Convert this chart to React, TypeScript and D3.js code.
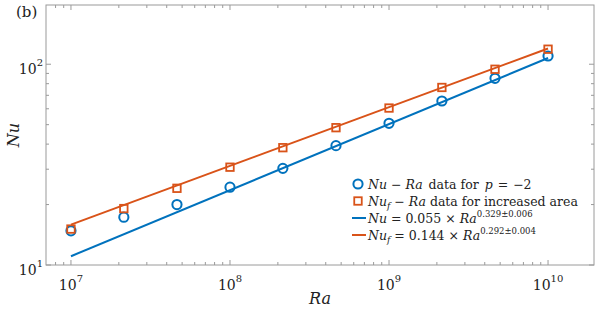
import React from 'react';
import * as d3 from 'd3';

// Rayleigh numbers and Nusselt values
const raValues = [1e7, 2.15e7, 4.64e7, 1e8, 2.15e8, 4.64e8, 1e9, 2.15e9, 4.64e9, 1e10];
const nuValues = [14.8, 17.3, 20.0, 24.4, 30.3, 39.3, 50.8, 65.6, 85.1, 109.9];
const nufValues = [15.1, 19.1, 24.1, 30.7, 38.4, 48.3, 60.5, 76.6, 94.4, 118.8];

// fit lines (end points, straight in log-log)
const fitRa = [1e7, 1e10];
const nuFit = [11.06, 107.4];
const nufFit = [15.9, 119.8];

const xTickExps = [7, 8, 9, 10];
const yTickExps = [1, 2];

const BLUE = '#0072BD';
const ORANGE = '#D95319';
const AXIS = '#9a9a9a';
const FONT = 'DejaVu Serif, serif';

const W = 598;
const H = 310;
const left = 46, right = 594, top = 5, bottom = 265;

export default function App() {
  const x = d3.scaleLog().domain([Math.pow(10, 6.843), Math.pow(10, 10.289)]).range([left, right]);
  const y = d3.scaleLog().domain([10, Math.pow(10, 2.295)]).range([bottom, top]);

  const xMinor: number[] = [];
  for (let e = 6; e <= 10; e++) {
    for (let m = 2; m <= 9; m++) {
      const v = m * Math.pow(10, e);
      if (x(v) > left + 0.5 && x(v) < right - 0.5) xMinor.push(v);
    }
  }
  const yMinor: number[] = [];
  for (let e = 1; e <= 2; e++) {
    for (let m = 2; m <= 9; m++) {
      const v = m * Math.pow(10, e);
      if (y(v) > top + 0.5 && y(v) < bottom - 0.5) yMinor.push(v);
    }
  }

  const line = d3.line<[number, number]>().x(d => x(d[0])).y(d => y(d[1]));
  const nuLine = line(fitRa.map((r, i) => [r, nuFit[i]] as [number, number]));
  const nufLine = line(fitRa.map((r, i) => [r, nufFit[i]] as [number, number]));

  const sq = 7.5;
  const legX = 358;
  const legRows = [184, 201, 218, 235];

  return (
    <svg width={W} height={H} style={{ position: 'absolute', left: 0, top: 0, background: '#fff' }} fontFamily={FONT}>
      <rect x={left} y={top} width={right - left} height={bottom - top} fill="none" stroke={AXIS} strokeWidth={1} />
      {/* x ticks */}
      {xTickExps.map(e => {
        const px = x(Math.pow(10, e));
        return (
          <g key={'xt' + e}>
            <line x1={px} x2={px} y1={bottom} y2={bottom - 5} stroke={AXIS} />
            <line x1={px} x2={px} y1={top} y2={top + 5} stroke={AXIS} />
            <text x={px} y={290} textAnchor="middle" fontSize={14} fill="#222">
              10<tspan dy={-8} fontSize={10}>{e}</tspan>
            </text>
          </g>
        );
      })}
      {xMinor.map((v, i) => (
        <g key={'xm' + i}>
          <line x1={x(v)} x2={x(v)} y1={bottom} y2={bottom - 3} stroke={AXIS} />
          <line x1={x(v)} x2={x(v)} y1={top} y2={top + 3} stroke={AXIS} />
        </g>
      ))}
      {/* y ticks */}
      {yTickExps.map(e => {
        const py = y(Math.pow(10, e));
        return (
          <g key={'yt' + e}>
            <line x1={left} x2={left + 5} y1={py} y2={py} stroke={AXIS} />
            <line x1={right} x2={right - 5} y1={py} y2={py} stroke={AXIS} />
            <text x={43} y={py + 10} textAnchor="end" fontSize={14} fill="#222">
              10<tspan dy={-8} fontSize={10}>{e}</tspan>
            </text>
          </g>
        );
      })}
      {yMinor.map((v, i) => (
        <g key={'ym' + i}>
          <line x1={left} x2={left + 3} y1={y(v)} y2={y(v)} stroke={AXIS} />
          <line x1={right} x2={right - 3} y1={y(v)} y2={y(v)} stroke={AXIS} />
        </g>
      ))}

      {/* fit lines */}
      <path d={nuLine || ''} fill="none" stroke={BLUE} strokeWidth={2} />
      <path d={nufLine || ''} fill="none" stroke={ORANGE} strokeWidth={2} />

      {/* data markers */}
      {raValues.map((r, i) => (
        <circle key={'c' + i} cx={x(r)} cy={y(nuValues[i])} r={4.6} fill="none" stroke={BLUE} strokeWidth={2} />
      ))}
      {raValues.map((r, i) => (
        <rect key={'s' + i} x={x(r) - sq / 2} y={y(nufValues[i]) - sq / 2} width={sq} height={sq} fill="none" stroke={ORANGE} strokeWidth={1.8} />
      ))}

      {/* axis labels */}
      <text x={(left + right) / 2} y={304} textAnchor="middle" fontSize={16} fontStyle="italic" fill="#222">Ra</text>
      <text transform={`translate(19,135) rotate(-90)`} textAnchor="middle" fontSize={16} fontStyle="italic" fill="#222">Nu</text>
      <text x={16} y={17} fontSize={15} fill="#222">(b)</text>

      {/* legend */}
      <circle cx={legX} cy={legRows[0]} r={4.6} fill="none" stroke={BLUE} strokeWidth={2} />
      <rect x={legX - sq / 2} y={legRows[1] - sq / 2} width={sq} height={sq} fill="none" stroke={ORANGE} strokeWidth={1.8} />
      <line x1={352} x2={366} y1={legRows[2]} y2={legRows[2]} stroke={BLUE} strokeWidth={2} />
      <line x1={352} x2={366} y1={legRows[3]} y2={legRows[3]} stroke={ORANGE} strokeWidth={2} />
      <g fontSize={12.5} fill="#222">
        <text x={368} y={legRows[0] + 5}>
          <tspan fontStyle="italic">Nu</tspan><tspan dx={4}>−</tspan><tspan dx={4} fontStyle="italic">Ra</tspan><tspan dx={2}> data for </tspan><tspan dx={2} fontStyle="italic">p</tspan><tspan dx={5}>=</tspan><tspan dx={5}>−2</tspan>
        </text>
        <text x={368} y={legRows[1] + 5}>
          <tspan fontStyle="italic">Nu</tspan><tspan fontStyle="italic" fontSize={9} dy={3}>f</tspan><tspan dy={-3}> − </tspan><tspan fontStyle="italic">Ra</tspan> data for increased area
        </text>
        <text x={368} y={legRows[2] + 5}>
          <tspan fontStyle="italic">Nu</tspan> = 0.055 × <tspan fontStyle="italic">Ra</tspan><tspan fontSize={8.5} dy={-6}>0.329±0.006</tspan>
        </text>
        <text x={368} y={legRows[3] + 5}>
          <tspan fontStyle="italic">Nu</tspan><tspan fontStyle="italic" fontSize={9} dy={3}>f</tspan><tspan dy={-3}> = 0.144 × </tspan><tspan fontStyle="italic">Ra</tspan><tspan fontSize={8.5} dy={-6}>0.292±0.004</tspan>
        </text>
      </g>
    </svg>
  );
}
